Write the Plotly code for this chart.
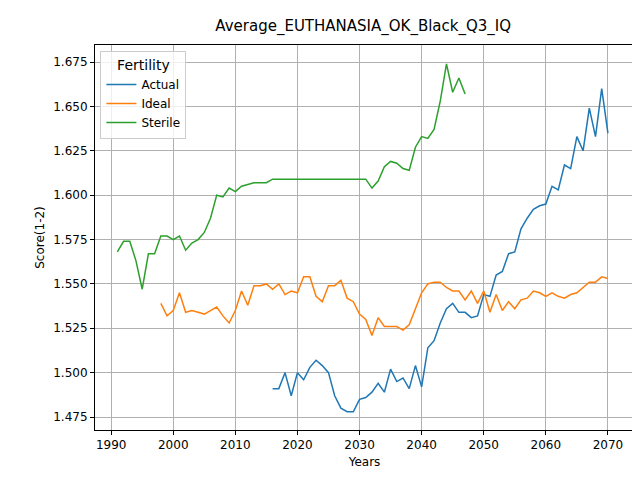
import plotly.graph_objects as go

sterile_years = list(range(1991, 2048))
sterile = [1.568,1.574,1.574,1.563,1.547,1.567,1.567,1.577,1.577,1.575,1.577,1.569,1.573,1.575,1.579,1.587,1.600,1.599,1.604,1.602,
           1.605,1.606,1.607,1.607,1.607,1.609,1.609,1.609,1.609,1.609,1.609,1.609,1.609,1.609,1.609,1.609,1.609,1.609,1.609,1.609,
           1.609,1.604,1.608,1.616,1.619,1.618,1.615,1.614,1.627,1.633,1.632,1.637,1.653,1.674,1.658,1.666,1.657]

ideal_years = list(range(1998, 2071))
ideal = [1.539,1.532,1.535,1.545,1.534,1.535,1.534,1.533,1.535,1.537,1.532,1.528,1.535,1.546,1.538,1.549,1.549,1.550,1.547,1.550,
         1.544,1.546,1.545,1.554,1.554,1.543,1.540,1.549,1.549,1.552,1.542,1.540,1.533,1.530,1.521,1.531,1.526,1.526,1.526,1.524,
         1.527,1.536,1.545,1.550,1.551,1.551,1.548,1.546,1.546,1.541,1.546,1.539,1.546,1.534,1.544,1.535,1.540,1.536,1.541,1.542,
         1.546,1.545,1.543,1.545,1.543,1.542,1.544,1.545,1.548,1.551,1.551,1.554,1.553]

actual_years = list(range(2016, 2071))
actual = [1.491,1.491,1.500,1.487,1.500,1.496,1.503,1.507,1.504,1.500,1.487,1.480,1.478,1.478,1.485,1.486,1.489,1.494,1.489,1.502,
          1.495,1.497,1.491,1.504,1.492,1.514,1.518,1.528,1.536,1.539,1.534,1.534,1.531,1.532,1.544,1.543,1.555,1.557,1.567,1.568,
          1.581,1.587,1.592,1.594,1.595,1.605,1.603,1.617,1.615,1.633,1.625,1.649,1.633,1.660,1.635]

fig = go.Figure()
fig.add_trace(go.Scatter(x=actual_years, y=actual, mode="lines", name="Actual", line=dict(color="#1f77b4", width=1.5)))
fig.add_trace(go.Scatter(x=ideal_years, y=ideal, mode="lines", name="Ideal", line=dict(color="#ff7f0e", width=1.5)))
fig.add_trace(go.Scatter(x=sterile_years, y=sterile, mode="lines", name="Sterile", line=dict(color="#2ca02c", width=1.5)))

axis_common = dict(showgrid=True, gridcolor="#b0b0b0", gridwidth=1, showline=True, linecolor="black", mirror=True,
                   ticks="outside", ticklen=4, tickcolor="black", zeroline=False, automargin=False,
                   tickfont=dict(size=12, color="black"))
fig.update_layout(
    width=640, height=480, plot_bgcolor="white", paper_bgcolor="white",
    font=dict(family="DejaVu Sans", color="black"),
    margin=dict(l=87, r=14, t=37, b=58),
    title=dict(text="Average_EUTHANASIA_OK_Black_Q3_IQ", x=0.555, xanchor="center", y=0.962, yanchor="middle", font=dict(size=15)),
    xaxis=dict(title=dict(text="Years", font=dict(size=12), standoff=6), range=[1987.4, 2074.2], tickvals=list(range(1990, 2071, 10)), **axis_common),
    yaxis=dict(title=dict(text="Score(1-2)", font=dict(size=12), standoff=6), range=[1.4677, 1.6846], tickvals=[1.475,1.5,1.525,1.55,1.575,1.6,1.625,1.65,1.675], tickformat=".3f", **axis_common),
    legend=dict(title=dict(text="Fertility", side="top center"), x=0.01, y=0.985, xanchor="left", yanchor="top",
                bordercolor="#cccccc", borderwidth=1, bgcolor="rgba(255,255,255,0.8)", font=dict(size=12)),
)
fig.write_html("out.html")
